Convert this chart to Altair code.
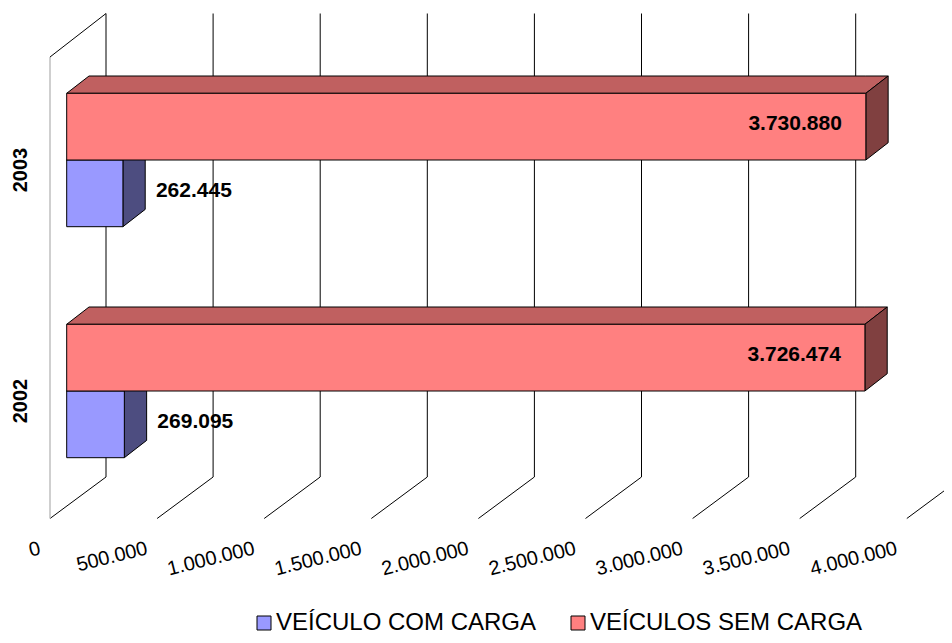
import altair as alt
import pandas as pd

# ---------------- data ----------------
years = ["2003", "2002"]
series = ["VEÍCULO COM CARGA", "VEÍCULOS SEM CARGA"]
com_carga = [262445, 269095]
sem_carga = [3730880, 3726474]
tick_values = [0, 500000, 1000000, 1500000, 2000000, 2500000, 3000000, 3500000, 4000000]
tick_labels = ["0", "500.000", "1.000.000", "1.500.000", "2.000.000",
               "2.500.000", "3.000.000", "3.500.000", "4.000.000"]

front_colors = ["#9999FF", "#FF8080"]
top_colors = ["#7373BF", "#C06060"]
side_colors = ["#4D4D80", "#804040"]

# ---------------- geometry (styling) ----------------
W, H = 936, 627
PX_PER_UNIT = 107.1 / 500000.0       # pixels per value unit
X0_PX = 58.7                          # where value 0 of the bar front sits
GROUP_PX = 231.0                      # pixels between year groups
Y0_PX = 152.0                         # first group center
BAR_H = 66.7 / GROUP_PX               # bar thickness in group units
DEPTH_X = 22.3 / PX_PER_UNIT          # bar depth along x (value units)
DEPTH_Y = -17.3 / GROUP_PX            # bar depth along y (group units)
BACK_DX, FLOOR_DX = 39.3, -16.7       # wall planes relative to bar front (px)

xs = alt.Scale(domain=[-X0_PX / PX_PER_UNIT, (W - X0_PX) / PX_PER_UNIT], nice=False, zero=False)
ys = alt.Scale(domain=[-Y0_PX / GROUP_PX, (H - Y0_PX) / GROUP_PX], nice=False, zero=False, reverse=True)

def fmt(v):
    return f"{v:,}".replace(",", ".")

fronts, faces, labels = [], [], []
for gi, yr in enumerate(years):
    for si, (name, vals) in enumerate(zip(series, [com_carga, sem_carga])):
        v = vals[gi]
        top = gi + (0 if si == 0 else -BAR_H)
        bot = top + BAR_H
        fronts.append(dict(year=yr, series=name, x0=0, x1=v, top=top, bot=bot, order=si))
        fid = f"{yr}-{si}"
        # top face
        for x, y, y2 in [(0, top, top), (DEPTH_X, top + DEPTH_Y, top),
                         (v, top + DEPTH_Y, top), (v + DEPTH_X, top + DEPTH_Y, top + DEPTH_Y)]:
            faces.append(dict(face=fid + "t", x=x, y=y, y2=y2, fill=top_colors[si], order=si))
        # side face
        for x, y, y2 in [(v, top, bot), (v + DEPTH_X, top + DEPTH_Y, bot + DEPTH_Y)]:
            faces.append(dict(face=fid + "s", x=x, y=y, y2=y2, fill=side_colors[si], order=si))
        labels.append(dict(series=name, v=v, ymid=(top + bot) / 2, text=fmt(v), si=si))

fronts_df = pd.DataFrame(fronts)
faces_df = pd.DataFrame(faces)
labels_df = pd.DataFrame(labels)
ticks_df = pd.DataFrame(dict(v=tick_values, label=tick_labels))
years_df = pd.DataFrame(dict(year=years, g=list(range(len(years)))))

FONT = "Liberation Sans"

# gridlines on back wall
grid_v = alt.Chart(ticks_df).mark_rule(color="black", strokeWidth=1, xOffset=BACK_DX, x2Offset=BACK_DX).encode(
    x=alt.X("v:Q", scale=xs, axis=None), x2="v:Q",
    y=alt.value(5.5), y2=alt.value(469))
grid_d = alt.Chart(ticks_df).mark_rule(color="black", strokeWidth=1, xOffset=BACK_DX, x2Offset=FLOOR_DX).encode(
    x=alt.X("v:Q", scale=xs, axis=None), x2="v:Q",
    y=alt.value(469), y2=alt.value(510.5))
wall_df = pd.DataFrame(dict(v=[0]))
wall_front = alt.Chart(wall_df).mark_rule(color="#BFBFBF", strokeWidth=1.5, xOffset=FLOOR_DX, x2Offset=FLOOR_DX).encode(
    x=alt.X("v:Q", scale=xs, axis=None), x2="v:Q",
    y=alt.value(49), y2=alt.value(510.5))
wall_top = alt.Chart(wall_df).mark_rule(color="black", strokeWidth=1, xOffset=FLOOR_DX, x2Offset=BACK_DX).encode(
    x=alt.X("v:Q", scale=xs, axis=None), x2="v:Q",
    y=alt.value(49), y2=alt.value(5.5))

faces_layer = alt.Chart(faces_df).mark_area(orient="vertical", stroke="black", strokeWidth=1,
                                            interpolate="linear").encode(
    x=alt.X("x:Q", scale=xs, axis=None),
    y=alt.Y("y:Q", scale=ys, axis=None, stack=None),
    y2="y2:Q",
    detail="face:N",
    fill=alt.Fill("fill:N", scale=None))

fronts_layer = alt.Chart(fronts_df).mark_rect(stroke="black", strokeWidth=1).encode(
    x=alt.X("x0:Q", scale=xs, axis=None), x2="x1:Q",
    y=alt.Y("top:Q", scale=ys, axis=None), y2="bot:Q",
    color=alt.Color("series:N", scale=alt.Scale(domain=series, range=front_colors),
                    legend=alt.Legend(orient="none", legendX=244, legendY=603, direction="horizontal",
                                      title=None, labelFontSize=24, labelFont=FONT, labelColor="black",
                                      labelLimit=0, symbolType="square", symbolSize=196,
                                      symbolStrokeColor="black", symbolStrokeWidth=1, labelOffset=0,
                                      columnPadding=29, padding=0, symbolOffset=0)))

lab_red = alt.Chart(labels_df[labels_df.si == 1]).mark_text(
    align="right", baseline="middle", font=FONT, fontSize=21, fontWeight="bold", xOffset=-24, dy=-3,
    color="black").encode(
    x=alt.X("v:Q", scale=xs, axis=None), y=alt.Y("ymid:Q", scale=ys, axis=None), text="text:N")
lab_blue = alt.Chart(labels_df[labels_df.si == 0]).mark_text(
    align="left", baseline="middle", font=FONT, fontSize=21, fontWeight="bold", xOffset=33, dy=-2,
    color="black").encode(
    x=alt.X("v:Q", scale=xs, axis=None), y=alt.Y("ymid:Q", scale=ys, axis=None), text="text:N")

tick_text = alt.Chart(ticks_df).mark_text(
    align="right", baseline="alphabetic", font=FONT, fontSize=20, angle=346,
    xOffset=FLOOR_DX - 8.5, color="black").encode(
    x=alt.X("v:Q", scale=xs, axis=None), y=alt.value(546), text="label:N")

year_text = alt.Chart(years_df).mark_text(
    align="center", baseline="middle", font=FONT, fontSize=20, fontWeight="bold", angle=270,
    dy=0, yOffset=10, color="black").encode(
    x=alt.value(13), y=alt.Y("g:Q", scale=ys, axis=None), text="year:N")

chart = alt.layer(grid_v, grid_d, wall_front, wall_top, faces_layer, fronts_layer,
                  lab_red, lab_blue, tick_text, year_text).properties(
    width=W, height=H, autosize=alt.AutoSizeParams(type="none"), padding=0,
    background="white"
).configure_view(strokeWidth=0, stroke="transparent")

chart.save("out.html", embed_options={"renderer": "svg", "actions": False})
